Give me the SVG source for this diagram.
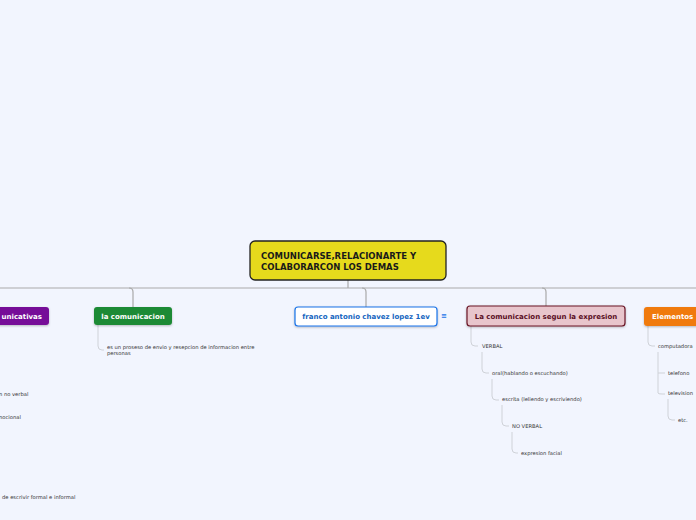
<svg xmlns="http://www.w3.org/2000/svg" width="696" height="520" viewBox="0 0 696 520">
<defs>
<style>
.bg{fill:#f2f5fe}
.main{stroke:#a9a9a9;stroke-width:1.2;fill:none}
.sub{stroke:#cfd2d8;stroke-width:1;fill:none}
.t{font-family:"DejaVu Sans",Verdana,sans-serif;font-weight:bold}
.s{font-family:"DejaVu Sans",Verdana,sans-serif;font-size:5.2px;fill:#333}
</style>
<filter id="sh" x="-10%" y="-20%" width="120%" height="150%"><feDropShadow dx="0" dy="1" stdDeviation="0.8" flood-color="#000" flood-opacity="0.25"/></filter>
</defs>
<rect class="bg" x="0" y="0" width="696" height="520"/>
<g id="connectors">
<path class="main" d="M348 280 V288"/>
<path class="main" d="M0 288 H696"/>
<path class="main" d="M129 288 Q133 288 133 292 V307"/>
<path class="main" d="M362 288 Q366 288 366 292 V307"/>
<path class="main" d="M542 288 Q546 288 546 292 V306"/>
<path class="sub" d="M98 325 V346 Q98 350 102 350 H104"/>
<path class="sub" d="M471 326 V342 Q471 346 475 346 H478"/>
<path class="sub" d="M482 352 V369 Q482 373 486 373 H489"/>
<path class="sub" d="M492 379 V396 Q492 400 496 400 H499"/>
<path class="sub" d="M502 405 V422 Q502 426 506 426 H509"/>
<path class="sub" d="M512 432 V449 Q512 453 516 453 H518"/>
<path class="sub" d="M648 326 V342 Q648 346 652 346 H655"/>
<path class="sub" d="M658 352 V393 Q658 394 662 394 H665"/>
<path class="sub" d="M658 373 H665"/>
<path class="sub" d="M668 399 V416 Q668 420 672 420 H675"/>
</g>
<g id="central">
<rect x="250" y="241" width="196" height="39" rx="5" fill="#e6da1c" stroke="#222" stroke-width="1.3"/>
<text class="t" x="261" y="259" font-size="8.5" fill="#1a1a1a">COMUNICARSE,RELACIONARTE Y</text>
<text class="t" x="261" y="270" font-size="8.5" fill="#1a1a1a">COLABORARCON LOS DEMAS</text>
</g>
<g id="n-comunicativas">
<rect x="-30" y="307" width="79" height="18" rx="3" fill="#760e98" filter="url(#sh)"/>
<text class="t" x="42" y="319" font-size="7" fill="#fff" text-anchor="end">unicativas</text>
</g>
<g id="n-lacomunicacion">
<rect x="94" y="307" width="78" height="18" rx="3" fill="#1d8a35" filter="url(#sh)"/>
<text class="t" x="133" y="319" font-size="7" fill="#fff" text-anchor="middle">la comunicacion</text>
</g>
<g id="n-franco">
<rect x="295" y="307" width="142" height="19" rx="3" fill="#fff" stroke="#1a73e8" stroke-width="1.2" filter="url(#sh)"/>
<text class="t" x="366" y="319" font-size="7" fill="#1565c0" text-anchor="middle">franco antonio chavez lopez 1ev</text>
<text class="t" x="444" y="318" font-size="7" fill="#1a73e8" text-anchor="middle">≡</text>
</g>
<g id="n-expresion">
<rect x="467" y="306" width="158" height="20" rx="3" fill="#e8c5cc" stroke="#6a1426" stroke-width="1.2" filter="url(#sh)"/>
<text class="t" x="546" y="319" font-size="7" fill="#5a0f1f" text-anchor="middle">La comunicacion segun la expresion</text>
</g>
<g id="n-elementos">
<rect x="644" y="307" width="70" height="19" rx="3" fill="#f07a0e" filter="url(#sh)"/>
<text class="t" x="652" y="319" font-size="7" fill="#fff">Elementos</text>
</g>
<g id="t-proceso">
<text class="s" x="107" y="349">es un proseso de envio y resepcion de informacion entre</text>
<text class="s" x="107" y="355">personas</text>
</g>
<g id="t-left">
<text class="s" x="-1" y="396">n no verbal</text>
<text class="s" x="-1" y="419">nocional</text>
<text class="s" x="2" y="499">de escrivir formal e informal</text>
</g>
<g id="t-verbal"><text class="s" x="482" y="348">VERBAL</text></g>
<g id="t-oral"><text class="s" x="492" y="375">oral(hablando o escuchando)</text></g>
<g id="t-escrita"><text class="s" x="502" y="401">escrita (leliendo y escriviendo)</text></g>
<g id="t-noverbal"><text class="s" x="512" y="428">NO VERBAL</text></g>
<g id="t-facial"><text class="s" x="521" y="455">expresion facial</text></g>
<g id="t-computadora"><text class="s" x="658" y="348">computadora</text></g>
<g id="t-telefono"><text class="s" x="668" y="375">telefono</text></g>
<g id="t-television"><text class="s" x="668" y="395">television</text></g>
<g id="t-etc"><text class="s" x="678" y="422">etc.</text></g>
</svg>
